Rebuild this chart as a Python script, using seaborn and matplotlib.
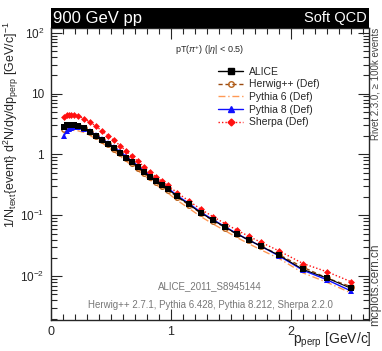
import numpy as np
import pandas as pd
import seaborn as sns
import matplotlib
matplotlib.use("Agg")
import matplotlib.pyplot as plt
from matplotlib.patches import Rectangle
from matplotlib.lines import Line2D
from matplotlib.ticker import MultipleLocator, LogLocator, FixedLocator, FixedFormatter, NullFormatter

# data
pt = [0.11, 0.13, 0.15, 0.17, 0.19, 0.225, 0.275, 0.325, 0.375, 0.425, 0.475,
      0.525, 0.575, 0.625, 0.675, 0.725, 0.775, 0.825, 0.875, 0.925, 0.975,
      1.05, 1.15, 1.25, 1.35, 1.45, 1.55, 1.65, 1.75, 1.9, 2.1, 2.3, 2.5]
alice = [2.8, 3.0, 3.1, 3.1, 3.05, 2.95, 2.7, 2.35, 2.05, 1.75, 1.5,
         1.27, 1.07, 0.88, 0.74, 0.62, 0.51, 0.43, 0.36, 0.31, 0.27,
         0.205, 0.151, 0.109, 0.083, 0.064, 0.049, 0.039, 0.031, 0.022, 0.0129, 0.0093, 0.0063]
herwig = [2.6, 2.85, 2.95, 3.0, 3.0, 2.9, 2.7, 2.35, 2.02, 1.72, 1.47,
          1.24, 1.04, 0.86, 0.72, 0.6, 0.5, 0.42, 0.355, 0.3, 0.26,
          0.2, 0.148, 0.108, 0.082, 0.063, 0.049, 0.039, 0.031, 0.0225, 0.014, 0.0093, 0.0067]
pythia6 = [2.3, 2.45, 2.5, 2.5, 2.5, 2.45, 2.3, 2.05, 1.8, 1.55, 1.32,
           1.12, 0.94, 0.78, 0.65, 0.54, 0.45, 0.38, 0.32, 0.27, 0.232,
           0.177, 0.13, 0.095, 0.072, 0.056, 0.043, 0.034, 0.027, 0.0195, 0.0113, 0.0079, 0.0053]
pythia8 = [2.05, 2.4, 2.6, 2.75, 2.8, 2.8, 2.65, 2.4, 2.1, 1.8, 1.55,
           1.32, 1.12, 0.93, 0.78, 0.65, 0.54, 0.45, 0.38, 0.325, 0.28,
           0.212, 0.156, 0.112, 0.085, 0.065, 0.05, 0.039, 0.031, 0.0215, 0.0125, 0.0087, 0.0057]
sherpa = [4.2, 4.4, 4.5, 4.5, 4.45, 4.3, 3.9, 3.4, 2.9, 2.45, 2.05,
          1.7, 1.4, 1.15, 0.93, 0.77, 0.63, 0.52, 0.43, 0.36, 0.31,
          0.235, 0.172, 0.125, 0.095, 0.073, 0.057, 0.045, 0.036, 0.026, 0.0161, 0.0118, 0.0081]

labels = ["ALICE", "Herwig++ (Def)", "Pythia 6 (Def)", "Pythia 8 (Def)", "Sherpa (Def)"]

sns.set_style("ticks")
plt.rcParams['font.family'] = ['Liberation Sans', 'DejaVu Sans']
plt.rcParams['mathtext.fontset'] = 'custom'
plt.rcParams['mathtext.rm'] = 'Liberation Sans'
plt.rcParams['mathtext.it'] = 'Liberation Sans:italic'

fig = plt.figure(figsize=(3.82, 3.51), dpi=100)
ax = fig.add_axes([51/382, 1-320/351, 318/382, 292/351])

# MC lines
sns.lineplot(x=pt, y=pythia6, ax=ax, color="#ff9955", lw=1.0, linestyle=(0, (5, 2, 1, 2)), zorder=2)
sns.lineplot(x=pt, y=herwig, ax=ax, color="#9a4a10", lw=1.0, linestyle=(0, (3, 2)),
             marker="o", markersize=4, markerfacecolor="none", markeredgecolor="#b8641e",
             markeredgewidth=1.0, zorder=3)
sns.lineplot(x=pt, y=pythia8, ax=ax, color="#1010ff", lw=1.0, marker="^", markersize=4,
             markeredgewidth=0, zorder=4)
sns.lineplot(x=pt, y=sherpa, ax=ax, color="#ff1010", lw=1.0, linestyle=(0, (1, 1.5)),
             marker="D", markersize=3.5, markeredgewidth=0, zorder=5)
sns.lineplot(x=pt, y=alice, ax=ax, color="black", lw=0.8, marker="s", markersize=4,
             markeredgewidth=0, zorder=6)

ax.set_yscale("log")
ax.set_xlim(0, 2.65)
ax.set_ylim(1.9e-3, 120)

ax.xaxis.set_major_locator(FixedLocator([0, 1, 2]))
ax.xaxis.set_minor_locator(MultipleLocator(0.1))
ax.yaxis.set_major_locator(FixedLocator([1e-2, 1e-1, 1, 10, 100]))
ax.yaxis.set_major_formatter(FixedFormatter(["10$^{-2}$", "10$^{-1}$", "1", "10", "10$^{2}$"]))
ax.yaxis.set_minor_locator(LogLocator(base=10, subs=np.arange(2, 10) * 1.0, numticks=20))
ax.yaxis.set_minor_formatter(NullFormatter())
ax.tick_params(which="both", direction="in", top=True, right=True, width=0.8)
ax.tick_params(axis="x", pad=4, labelsize=9)
ax.tick_params(axis="y", pad=5, labelsize=8.5)
ax.tick_params(which="major", length=8)
ax.tick_params(which="minor", length=4)
for s in ax.spines.values():
    s.set_linewidth(1.0)

ax.set_xlabel("")
ax.set_ylabel("")
fig.text(372/382, 1-344/351, r"p$_{\mathrm{perp}}$ [GeV/c]", fontsize=10,
         ha="right", va="baseline")
fig.text(11/382, 1-21/351,
         r"1/N$_{\mathrm{text}}${event} d$^2$N/dy/dp$_{\mathrm{perp}}$ [GeV/c]$^{-1}$",
         fontsize=9, rotation=90, ha="center", va="top")

# legend
handles = [
    Line2D([], [], color="black", lw=1.0, marker="s", markersize=4),
    Line2D([], [], color="#9a4a10", lw=1.0, linestyle=(0, (3, 2)), marker="o", markersize=4,
           markerfacecolor="none", markeredgecolor="#b8641e"),
    Line2D([], [], color="#ff9955", lw=1.0, linestyle=(0, (5, 2, 1, 2))),
    Line2D([], [], color="#1010ff", lw=1.0, marker="^", markersize=4),
    Line2D([], [], color="#ff1010", lw=1.0, linestyle=(0, (1, 1.5)), marker="D", markersize=3.5),
]
ax.legend(handles, labels, loc="upper left", bbox_to_anchor=(0.51, 0.885), frameon=False,
          fontsize=7.5, handlelength=2.4, handletextpad=0.5, labelspacing=0.25, borderpad=0)

ax.text(0.5, 0.925, r"pT($\pi^{+}$) (|$\eta$| < 0.5)", transform=ax.transAxes,
        ha="center", va="center", fontsize=6.5)
ax.text(0.5, 0.115, "ALICE_2011_S8945144", transform=ax.transAxes, ha="center", va="center",
        fontsize=7, color="#777777")
ax.text(0.5, 0.05, "Herwig++ 2.7.1, Pythia 6.428, Pythia 8.212, Sherpa 2.2.0",
        transform=ax.transAxes, ha="center", va="center", fontsize=7, color="#777777")

# title bar
fig.patches.append(Rectangle((51/382, 1-28/351), 318/382, 20/351, transform=fig.transFigure,
                             facecolor="black", edgecolor="none"))
fig.text(53/382, 1-18/351, "900 GeV pp", color="white", fontsize=12, ha="left", va="center")
fig.text(367/382, 1-18/351, "Soft QCD", color="white", fontsize=10.5, ha="right", va="center")

# side labels
fig.text(375/382, 1-28/351, "Rivet 2.3.0, \u2265 100k events", rotation=90, fontsize=7,
         color="#444444", ha="center", va="top")
fig.text(375/382, 1-326/351, "mcplots.cern.ch", rotation=90, fontsize=8.5,
         color="#444444", ha="center", va="bottom")

fig.savefig("out.png", dpi=100)
